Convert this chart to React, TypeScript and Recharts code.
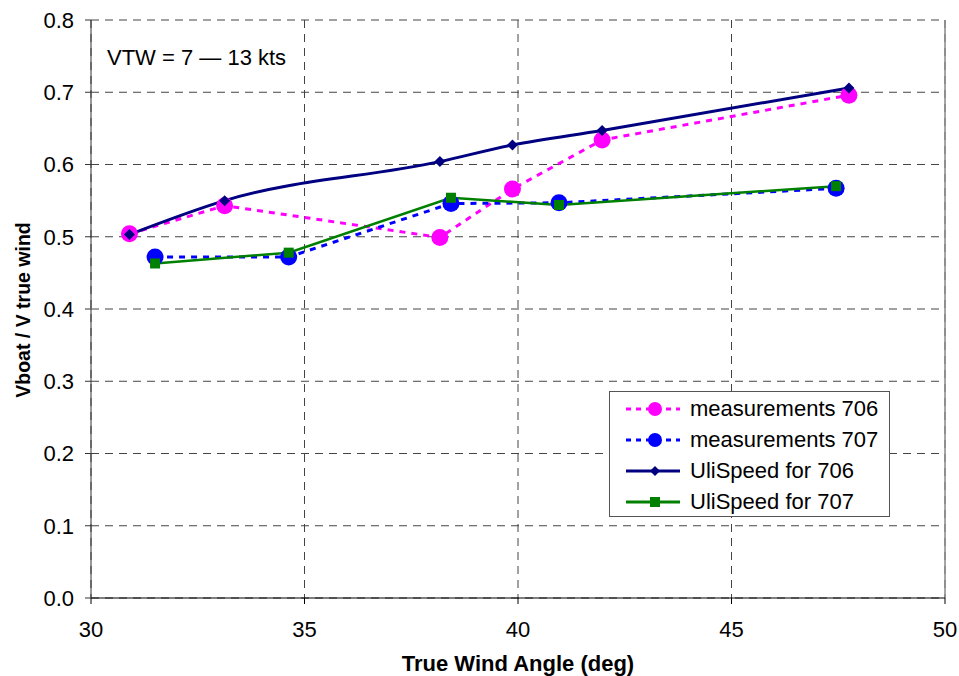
import React from 'react';
import { LineChart, Line, XAxis, YAxis, CartesianGrid, Legend, ReferenceLine } from 'recharts';

const angles706 = [30.9, 33.13, 38.17, 39.87, 41.97, 47.75];
const meas706 = [0.504, 0.543, 0.499, 0.566, 0.634, 0.696];
const uli706 = [0.503, 0.55, 0.604, 0.627, 0.647, 0.706];

const angles707 = [31.5, 34.63, 38.43, 40.96, 47.45];
const meas707 = [0.472, 0.472, 0.546, 0.547, 0.567];
const uli707 = [0.463, 0.478, 0.554, 0.544, 0.57];

const xTicks = [30, 35, 40, 45, 50];
const yTicks = [0, 0.1, 0.2, 0.3, 0.4, 0.5, 0.6, 0.7, 0.8];

const seriesNames = ['measurements 706', 'measurements 707', 'UliSpeed for 706', 'UliSpeed for 707'];

const data706m = angles706.map((a, i) => ({ angle: a, v: meas706[i] }));
const data706u = angles706.map((a, i) => ({ angle: a, v: uli706[i] }));
const data707m = angles707.map((a, i) => ({ angle: a, v: meas707[i] }));
const data707u = angles707.map((a, i) => ({ angle: a, v: uli707[i] }));

const FONT = '"Liberation Sans", Arial, sans-serif';

const colors = {
  magenta: '#FF00FF',
  blue: '#0000FF',
  navy: '#000080',
  green: '#008000',
};

const Circle = (color: string) => (props: any) => {
  const { cx, cy } = props;
  if (cx == null || cy == null) return null;
  return <circle cx={cx} cy={cy} r={8.5} fill={color} stroke="none" />;
};

const Diamond = (props: any) => {
  const { cx, cy } = props;
  if (cx == null || cy == null) return null;
  const s = 5.5;
  return <polygon points={`${cx},${cy - s} ${cx + s},${cy} ${cx},${cy + s} ${cx - s},${cy}`} fill={colors.navy} />;
};

const Square = (props: any) => {
  const { cx, cy } = props;
  if (cx == null || cy == null) return null;
  return <rect x={cx - 5} y={cy - 5} width={10} height={10} fill={colors.green} />;
};

const legendItems = [
  { name: seriesNames[0], color: colors.magenta, dash: '5 5', marker: 'circle' },
  { name: seriesNames[1], color: colors.blue, dash: '5 5', marker: 'circle' },
  { name: seriesNames[2], color: colors.navy, dash: undefined, marker: 'diamond' },
  { name: seriesNames[3], color: colors.green, dash: undefined, marker: 'square' },
];

const LegendBox = () => (
  <div
    style={{
      width: 281,
      height: 126,
      border: '1px solid #555',
      background: '#fff',
      boxSizing: 'border-box',
      paddingTop: 1,
      fontFamily: FONT,
      fontSize: 22,
    }}
  >
    {legendItems.map((it) => (
      <div key={it.name} style={{ display: 'flex', alignItems: 'center', height: 31 }}>
        <svg width={80} height={24} style={{ flex: 'none' }}>
          <line x1={16} y1={12} x2={70} y2={12} stroke={it.color} strokeWidth={3} strokeDasharray={it.dash} />
          {it.marker === 'circle' && <circle cx={45} cy={12} r={7} fill={it.color} />}
          {it.marker === 'diamond' && <polygon points="45,7 50,12 45,17 40,12" fill={it.color} />}
          {it.marker === 'square' && <rect x={40} y={7} width={10} height={10} fill={it.color} />}
        </svg>
        <span style={{ color: '#000', whiteSpace: 'nowrap' }}>{it.name}</span>
      </div>
    ))}
  </div>
);

const YLabel = (props: any) => {
  const { viewBox } = props;
  const cy = viewBox.y + viewBox.height / 2 + 1;
  return (
    <text
      x={23}
      y={cy}
      transform={`rotate(-90, 23, ${cy})`}
      textAnchor="middle"
      dominantBaseline="central"
      fontFamily={FONT}
      fontSize={19.5}
      fontWeight="bold"
      fill="#000"
    >
      Vboat / V true wind
    </text>
  );
};

const XLabel = (props: any) => {
  const { viewBox } = props;
  const cx = viewBox.x + viewBox.width / 2;
  return (
    <text x={cx} y={671} textAnchor="middle" fontFamily={FONT} fontSize={22} fontWeight="bold" fill="#000">
      True Wind Angle (deg)
    </text>
  );
};

export default function App() {
  return (
    <div style={{ position: 'absolute', left: 0, top: 0, width: 959, height: 676, background: '#fff' }}>
      <LineChart width={959} height={676} margin={{ top: 20, right: 14, bottom: 0, left: 0 }} style={{ fontFamily: FONT }}>
        <CartesianGrid stroke="#444" strokeDasharray="8 6" strokeWidth={1} />
        <XAxis
          type="number"
          dataKey="angle"
          domain={[30, 50]}
          ticks={xTicks}
          allowDataOverflow
          height={78}
          tickSize={6}
          tickMargin={17}
          stroke="#000"
          tick={{ fill: '#000', fontSize: 22, fontFamily: FONT }}
          label={<XLabel />}
        />
        <YAxis
          type="number"
          domain={[0, 0.8]}
          ticks={yTicks}
          width={91}
          tickSize={6}
          tickMargin={11}
          stroke="#333"
          tickFormatter={(v: number) => v.toFixed(1)}
          tick={{ fill: '#000', fontSize: 22, fontFamily: FONT }}
          label={<YLabel />}
        />
        <ReferenceLine x={50} stroke="#888" strokeWidth={1.5} />
        <Legend
          layout="vertical"
          align="center"
          verticalAlign="middle"
          wrapperStyle={{ left: 609, top: 391, width: 281 }}
          content={() => <LegendBox />}
        />
        <Line
          data={data706m}
          dataKey="v"
          name={seriesNames[0]}
          type="linear"
          stroke={colors.magenta}
          strokeWidth={3}
          strokeDasharray="6 6"
          dot={Circle(colors.magenta)}
          activeDot={false}
          isAnimationActive={false}
        />
        <Line
          data={data707m}
          dataKey="v"
          name={seriesNames[1]}
          type="linear"
          stroke={colors.blue}
          strokeWidth={3}
          strokeDasharray="6 6"
          dot={Circle(colors.blue)}
          activeDot={false}
          isAnimationActive={false}
        />
        <Line
          data={data706u}
          dataKey="v"
          name={seriesNames[2]}
          type="monotone"
          stroke={colors.navy}
          strokeWidth={3}
          dot={Diamond}
          activeDot={false}
          isAnimationActive={false}
        />
        <Line
          data={data707u}
          dataKey="v"
          name={seriesNames[3]}
          type="linear"
          stroke={colors.green}
          strokeWidth={2.5}
          dot={Square}
          activeDot={false}
          isAnimationActive={false}
        />
      </LineChart>
      <div
        style={{
          position: 'absolute',
          left: 107,
          top: 45,
          fontFamily: FONT,
          fontSize: 22,
          color: '#000',
          whiteSpace: 'nowrap',
        }}
      >
        VTW = 7 — 13 kts
      </div>
    </div>
  );
}
